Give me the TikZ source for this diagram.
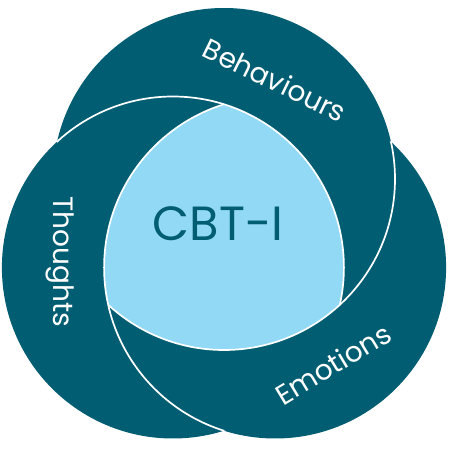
\documentclass[tikz,border=0pt]{standalone}
\usepackage{fontspec}
\setmainfont{Poppins}
\definecolor{deepteal}{RGB}{0,93,114}
\definecolor{skyblue}{RGB}{146,217,246}
\tikzset{
        ring/.style={fill=deepteal},
        core/.style={fill=skyblue},
        seam/.style={draw=white, line width=1.7pt},
        ringtext/.style={text=white, inner sep=0pt, font=\fontsize{28}{28}\selectfont},
        coretext/.style={text=deepteal, inner sep=0pt, font=\fontsize{48}{48}\selectfont}
          }
\begin{document}
\begin{tikzpicture}[x=1pt, y=1pt]
        \useasboundingbox (0,0) rectangle (450,450);
        \coordinate (mid) at (224,212);
        \coordinate (beh) at ([shift={(90:59)}]mid);
        \coordinate (tho) at ([shift={(210:59)}]mid);
        \coordinate (emo) at ([shift={(330:59)}]mid);
        \foreach \c in {beh,tho,emo}
          \fill[ring] (\c) circle (171);
        \begin{scope}
          \clip (beh) circle (171);
          \clip (tho) circle (171);
          \fill[core] (emo) circle (171);
        \end{scope}
        % each ring lies over the next one
        \foreach \cov/\und in {tho/beh,beh/emo,emo/tho}{
          \begin{scope}
            \clip (\und) circle (171);
            \draw[seam] (\cov) circle (171);
          \end{scope}
        }
        \node[coretext] (cbt) at (218,226) {CBT-I};
        \node[ringtext, rotate=-26] (behtext) at (275,370) {Behaviours};
        \node[ringtext, rotate=-90] (thotext) at (60,188) {Thoughts};
        \node[ringtext, rotate=31] (emotext) at (333,86) {Emotions};
\end{tikzpicture}
\end{document}
